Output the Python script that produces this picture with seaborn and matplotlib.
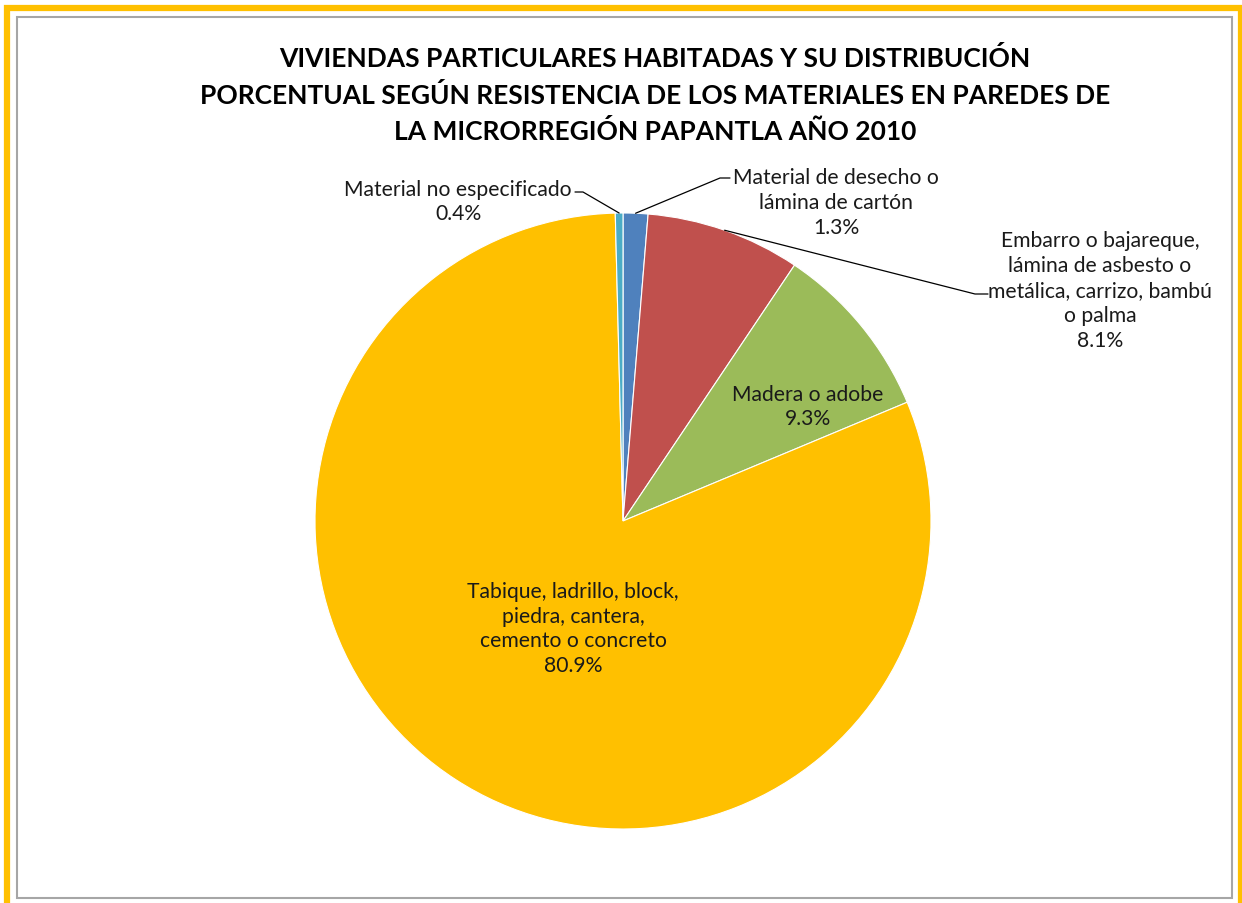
import matplotlib
matplotlib.use("Agg")
import matplotlib.pyplot as plt
import seaborn as sns
import numpy as np
from matplotlib.patches import Rectangle

# chart data (clockwise from 12 o'clock)
categorias = [
    "Material de desecho o\nlámina de cartón",
    "Embarro o bajareque,\nlámina de asbesto o\nmetálica, carrizo, bambú\no palma",
    "Madera o adobe",
    "Tabique, ladrillo, block,\npiedra, cantera,\ncemento o concreto",
    "Material no especificado",
]
porcentajes = [1.3, 8.1, 9.3, 80.9, 0.4]
colores = ["#4F81BD", "#C0504D", "#9BBB59", "#FFC000", "#4BACC6"]

titulo = ("VIVIENDAS PARTICULARES HABITADAS Y SU DISTRIBUCIÓN\n"
          "PORCENTUAL SEGÚN RESISTENCIA DE LOS MATERIALES EN PAREDES DE\n"
          "LA MICRORREGIÓN PAPANTLA AÑO 2010")

sns.set_theme(style="white")
plt.rcParams["font.family"] = ["Lato", "DejaVu Sans"]

W, H = 1242, 904
fig = plt.figure(figsize=(W / 100, H / 100), dpi=100)

# frames
fig.add_artist(Rectangle((7 / W, -0.05), (1241 - 7) / W, (H - 9) / H + 0.05,
                         transform=fig.transFigure, fill=False,
                         edgecolor="#FFC000", linewidth=4.5))
fig.add_artist(Rectangle((17 / W, (H - 899) / H), (1232 - 17) / W, (899 - 18) / H,
                         transform=fig.transFigure, fill=False,
                         edgecolor="#A6A6A6", linewidth=1.5))

cx, cy, r = 623, 522, 308
ax = fig.add_axes([(cx - r) / W, (H - cy - r) / H, 2 * r / W, 2 * r / H])
wedges, _ = ax.pie(porcentajes, colors=colores, startangle=90, counterclock=False,
                   wedgeprops=dict(edgecolor="white", linewidth=0.8))
ax.set_xlim(-1, 1)
ax.set_ylim(-1, 1)
ax.set_aspect("equal")
ax.axis("off")


def px(x, y):
    return (x - cx) / r, (cy - y) / r


def mid_point(w, rad=1.0):
    a = np.deg2rad((w.theta1 + w.theta2) / 2)
    return rad * np.cos(a), rad * np.sin(a)


fs = 15.2
ls = 1.3
etiquetas = [f"{c}\n{p:.1f}%" for c, p in zip(categorias, porcentajes)]

# outside labels with leader lines
# (index, text center px, elbow px, end px)
fuera = [
    (4, (458, 202), (583, 193), (575, 193)),
    (0, (836, 203), (720, 179), (730, 179)),
    (1, (1100, 291), (975, 295), (988, 295)),
]
for i, tpos, elbow, end in fuera:
    x0, y0 = mid_point(wedges[i])
    ex, ey = px(*elbow)
    fx, fy = px(*end)
    ax.plot([x0, ex, fx], [y0, ey, fy], color="black", lw=0.9, clip_on=False)
    tx, ty = px(*tpos)
    ax.text(tx, ty, etiquetas[i], ha="center", va="center", fontsize=fs,
            linespacing=ls, color="#1a1a1a", clip_on=False)

# inside labels
tx, ty = px(808, 407)
ax.text(tx, ty, etiquetas[2], ha="center", va="center", fontsize=fs,
        linespacing=ls, color="#1a1a1a")
tx, ty = px(573, 629)
ax.text(tx, ty, etiquetas[3], ha="center", va="center", fontsize=fs,
        linespacing=ls, color="#1a1a1a")

fig.text(655 / W, 1 - 95 / H, titulo, ha="center", va="center", fontsize=19,
         fontweight="bold", linespacing=1.53, color="black")

fig.savefig("out.png", dpi=100, facecolor="white")
